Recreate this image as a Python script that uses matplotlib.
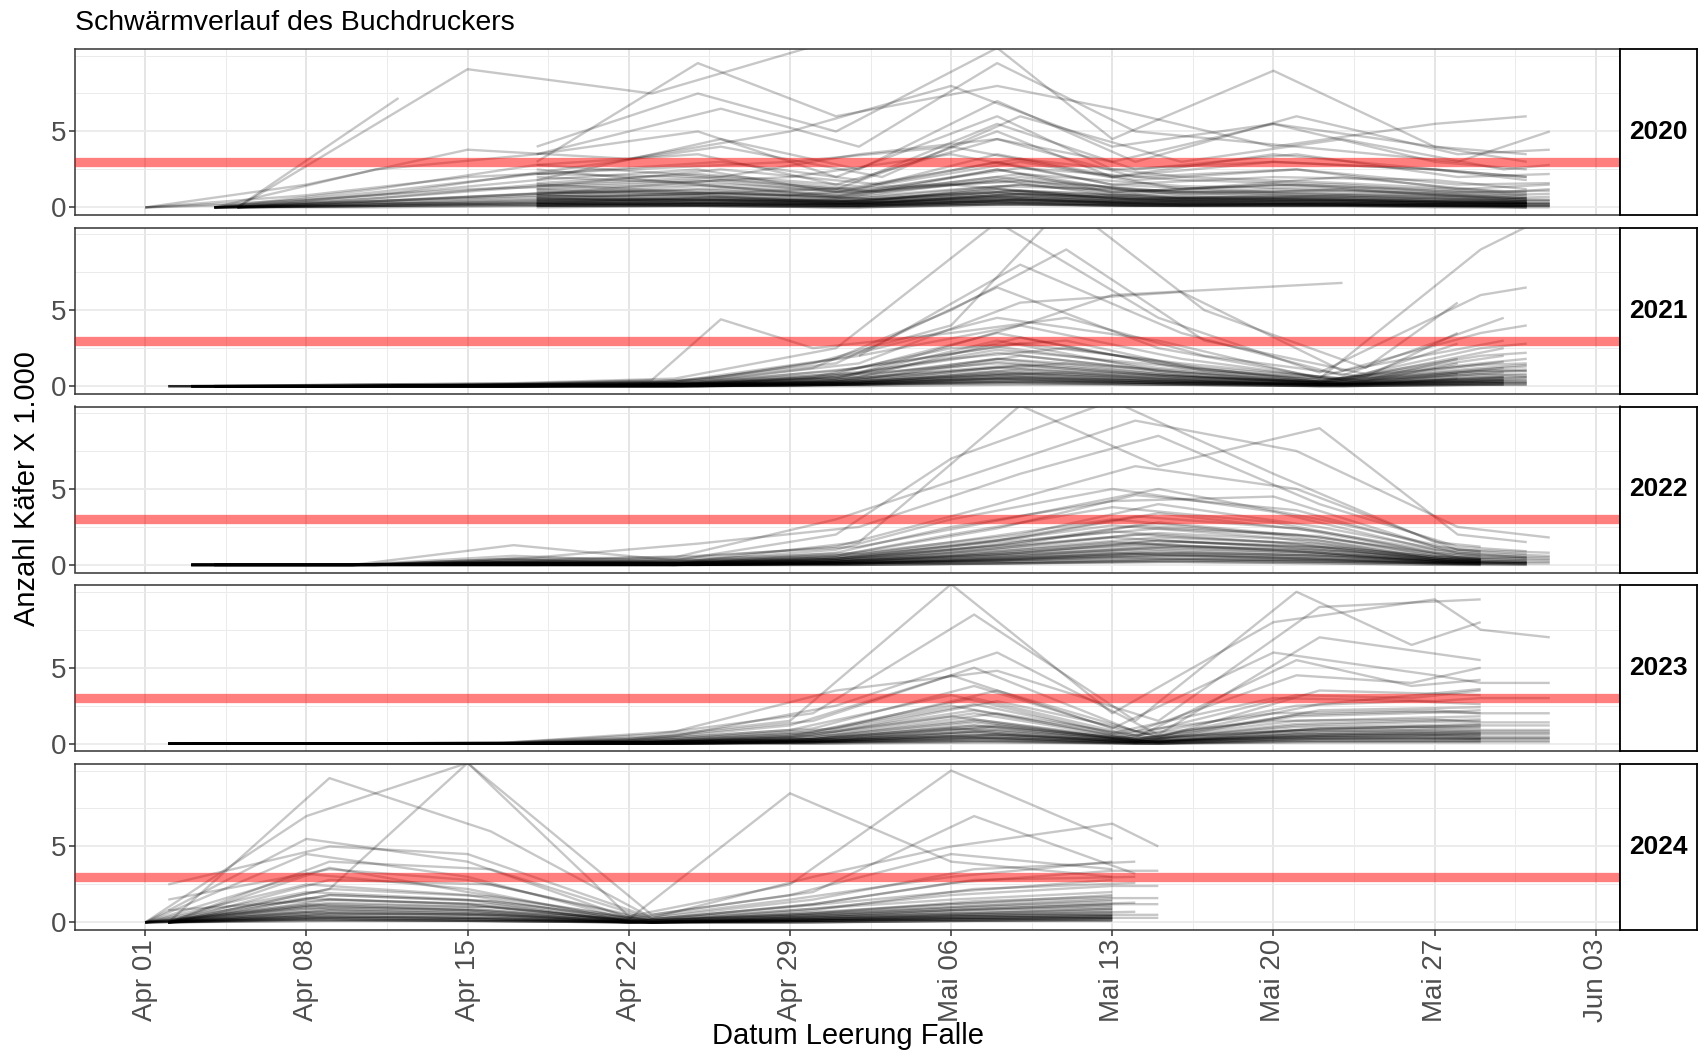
import matplotlib
matplotlib.use("Agg")
import matplotlib.pyplot as plt
import matplotlib.dates as mdates
import numpy as np
import pandas as pd

plt.rcParams['font.family'] = ['Liberation Sans', 'DejaVu Sans']

# ---------------- data (days after 1 April, beetles x 1000) ----------------
years = [2020, 2021, 2022, 2023, 2024]
threshold = 3.0
tick_labels = ["Apr 01", "Apr 08", "Apr 15", "Apr 22", "Apr 29",
               "Mai 06", "Mai 13", "Mai 20", "Mai 27", "Jun 03"]
title = "Schwärmverlauf des Buchdruckers"
xlabel = "Datum Leerung Falle"
ylabel = "Anzahl Käfer X 1.000"

# 2020
days_2020_a = [0, 7, 14, 21, 28, 35, 42, 49, 56, 60]
vals_2020_a = [
    [0, 0.8, 2.0, 2.5, 3.0, 4.0, 2.0, 3.0, 2.5, 2.0],
    [0, 0.5, 1.2, 1.5, 2.0, 3.5, 1.5, 1.0, 0.8, 0.5],
    [0, 1.5, 3.8, 3.2, 5.0, 8.0, 4.0, 5.5, 4.0, 3.0],
    [0, 0.3, 0.6, 1.0, 0.8, 1.5, 0.6, 0.5, 0.4, 0.3],
]
days_2020_b = [3, 10, 17, 25, 31, 37, 43, 50, 57, 61]
vals_2020_b = [
    [0, 0.4, 0.9, 1.2, 0.8, 2.5, 1.0, 1.5, 1.0, 1.1],
    [0, 0.2, 0.5, 0.7, 0.4, 1.2, 0.5, 0.6, 0.4, 0.4],
    [0, 1.0, 2.2, 3.0, 1.8, 5.5, 2.5, 3.5, 2.0, 2.2],
    [0, 0.1, 0.3, 0.5, 0.2, 0.8, 0.3, 0.3, 0.2, 0.2],
    [0, 0.6, 1.5, 2.0, 1.2, 3.5, 1.8, 2.5, 1.2, 1.5],
    [0, 2.5, 3.5, 6.5, 4.0, 9.5, 5.0, 4.0, 3.0, 5.0],
    [0, 0.3, 0.2, 0.4, 0.3, 0.6, 0.2, 0.2, 0.1, 0.1],
    [0, 0.8, 1.8, 4.5, 2.5, 7.0, 3.0, 6.0, 3.5, 3.8],
    [0, 0.1, 0.1, 0.2, 0.1, 0.4, 0.1, 0.2, 0.1, 0.1],
    [0, 1.2, 2.8, 2.0, 3.5, 4.5, 2.0, 2.5, 1.5, 1.6],
]
days_2020_c = [4, 11, 18, 25, 32, 38, 45, 52, 59, 61]
vals_2020_c = [
    [0, 0.5, 1.0, 1.8, 1.0, 2.0, 0.8, 1.2, 0.6, 0.7],
    [0, 0.2, 0.4, 0.6, 0.3, 0.9, 0.4, 0.5, 0.3, 0.3],
    [0, 1.0, 2.5, 4.0, 2.0, 6.0, 3.0, 4.5, 2.5, 2.8],
    [0, 0.3, 0.6, 1.0, 0.5, 1.5, 0.6, 0.8, 0.5, 0.5],
    [0, 0.1, 0.2, 0.3, 0.2, 0.5, 0.2, 0.3, 0.2, 0.2],
    [0, 0.7, 1.5, 2.5, 1.5, 3.0, 1.2, 2.0, 1.0, 1.2],
]
days_2020_d = [17, 24, 30, 37, 42, 49, 56, 60]
vals_2020_d = [
    [2.5, 1.5, 0.8, 2.0, 1.0, 1.5, 1.2, 0.8],
    [0.5, 0.3, 0.2, 0.6, 0.3, 0.4, 0.3, 0.2],
    [3.5, 5.0, 2.0, 6.0, 2.5, 3.0, 2.5, 2.0],
    [1.0, 0.8, 0.3, 1.2, 0.5, 0.8, 0.6, 0.4],
    [0.2, 0.1, 0.1, 0.3, 0.1, 0.2, 0.1, 0.1],
    [4.0, 7.5, 5.0, 10.5, 4.5, 9.0, 4.0, 3.5],
    [1.8, 2.5, 1.0, 3.0, 1.5, 2.0, 1.8, 1.2],
    [0.8, 0.5, 0.4, 1.0, 0.4, 0.6, 0.4, 0.3],
    [2.8, 3.5, 1.5, 4.5, 3.0, 5.5, 3.0, 2.5],
    [0.3, 0.2, 0.1, 0.4, 0.2, 0.3, 0.2, 0.1],
    [1.5, 1.0, 0.6, 1.8, 0.8, 1.2, 0.9, 0.6],
    [3.0, 9.5, 6.0, 8.0, 6.5, 4.0, 5.5, 6.0],
    [0.6, 0.4, 0.2, 0.7, 0.3, 0.5, 0.3, 0.3],
    [2.2, 2.0, 1.2, 5.0, 2.0, 3.5, 2.5, 1.8],
    [1.2, 1.5, 0.7, 2.5, 1.0, 1.5, 1.0, 0.7],
    [0.1, 0.1, 0.0, 0.2, 0.1, 0.1, 0.1, 0.0],
]
days_2020_e = [4, 14, 22, 29]
vals_2020_e = [[0, 9.1, 7.5, 10.6]]
days_2020_f = [4, 11]
vals_2020_f = [[0, 7.2]]
days_2020_g = [17, 24, 31, 38, 45, 52, 56, 60]
vals_2020_g = [
    [0.4, 0.6, 0.3, 0.9, 0.5, 0.4, 0.3, 0.2],
    [0.9, 1.2, 0.6, 1.5, 0.9, 0.7, 0.5, 0.4],
    [0.2, 0.3, 0.1, 0.5, 0.2, 0.2, 0.1, 0.1],
    [1.4, 1.8, 0.9, 2.2, 1.4, 1.2, 0.8, 0.6],
    [0.6, 0.4, 0.5, 0.8, 0.6, 0.5, 0.3, 0.3],
    [0.1, 0.2, 0.1, 0.3, 0.1, 0.1, 0.1, 0.1],
    [1.1, 0.9, 1.3, 1.7, 1.0, 0.8, 0.7, 0.5],
    [0.3, 0.5, 0.2, 0.6, 0.4, 0.3, 0.2, 0.2],
    [2.0, 1.6, 1.1, 2.6, 1.8, 1.5, 1.1, 0.9],
    [0.7, 0.8, 0.4, 1.1, 0.7, 0.6, 0.4, 0.3],
    [0.0, 0.1, 0.0, 0.2, 0.1, 0.1, 0.0, 0.0],
    [1.6, 2.2, 1.4, 3.2, 2.0, 1.6, 1.3, 1.0],
]
days_2020_h = [3, 10, 17, 24, 31, 38, 45, 52, 59, 61]
vals_2020_h = [
    [0, 0.1, 0.2, 0.3, 0.2, 0.4, 0.2, 0.2, 0.1, 0.1],
    [0, 0.2, 0.4, 0.5, 0.4, 0.7, 0.4, 0.4, 0.3, 0.3],
    [0, 0.0, 0.1, 0.1, 0.1, 0.2, 0.1, 0.1, 0.0, 0.0],
    [0, 0.3, 0.7, 0.9, 0.6, 1.1, 0.6, 0.7, 0.5, 0.5],
    [0, 0.1, 0.3, 0.2, 0.3, 0.5, 0.3, 0.2, 0.2, 0.2],
    [0, 0.4, 0.9, 1.4, 1.0, 1.8, 1.0, 1.1, 0.8, 0.9],
]
days_2020_i = [17, 24, 31, 37, 44, 51, 58, 60]
vals_2020_i = [
    [0.3, 0.2, 0.2, 0.4, 0.3, 0.2, 0.2, 0.1],
    [0.6, 0.5, 0.3, 0.7, 0.5, 0.4, 0.3, 0.3],
    [0.1, 0.1, 0.0, 0.2, 0.1, 0.1, 0.1, 0.0],
    [0.8, 0.7, 0.5, 1.0, 0.7, 0.6, 0.5, 0.4],
    [0.4, 0.3, 0.3, 0.5, 0.4, 0.3, 0.2, 0.2],
    [1.2, 1.0, 0.7, 1.4, 1.1, 0.9, 0.7, 0.6],
    [0.2, 0.2, 0.1, 0.3, 0.2, 0.2, 0.1, 0.1],
    [0.5, 0.6, 0.4, 0.9, 0.6, 0.5, 0.4, 0.3],
]

# 2021
days_2021_a = [2, 9, 16, 23, 30, 37, 44, 51, 58, 60]
vals_2021_a = [
    [0, 0.0, 0.1, 0.2, 0.8, 3.5, 1.5, 0.3, 2.0, 2.2],
    [0, 0.0, 0.0, 0.1, 0.4, 1.8, 0.8, 0.2, 1.0, 1.0],
    [0, 0.1, 0.1, 0.3, 1.5, 6.5, 2.5, 0.6, 3.5, 4.0],
    [0, 0.0, 0.0, 0.0, 0.2, 0.9, 0.4, 0.1, 0.5, 0.6],
    [0, 0.0, 0.1, 0.2, 1.0, 2.6, 1.2, 0.4, 1.5, 1.8],
    [0, 0.1, 0.2, 0.5, 2.5, 10.8, 4.5, 0.9, 6.0, 6.5],
    [0, 0.0, 0.0, 0.1, 0.3, 1.2, 0.5, 0.2, 0.8, 0.7],
    [0, 0.0, 0.1, 0.1, 0.6, 2.2, 1.0, 0.3, 1.2, 1.4],
    [0, 0.0, 0.0, 0.0, 0.1, 0.5, 0.2, 0.1, 0.3, 0.3],
    [0, 0.0, 0.1, 0.3, 1.8, 4.5, 3.0, 0.5, 9.0, 10.5],
    [0, 0.0, 0.0, 0.1, 0.5, 3.0, 1.0, 0.2, 2.5, 2.8],
    [0, 0.0, 0.0, 0.1, 0.7, 1.5, 0.7, 0.3, 1.1, 1.3],
]
days_2021_b = [3, 10, 17, 24, 31, 38, 45, 52, 59]
vals_2021_b = [
    [0, 0.0, 0.1, 0.2, 0.9, 4.0, 1.8, 0.4, 2.5],
    [0, 0.0, 0.0, 0.1, 0.3, 1.4, 0.6, 0.2, 0.9],
    [0, 0.1, 0.2, 0.4, 2.0, 8.0, 3.5, 0.7, 4.5],
    [0, 0.0, 0.0, 0.0, 0.1, 0.6, 0.3, 0.1, 0.4],
    [0, 0.0, 0.1, 0.2, 1.2, 2.8, 1.5, 0.5, 2.0],
    [0, 0.0, 0.0, 0.1, 0.4, 2.0, 0.9, 0.2, 1.2],
    [0, 0.1, 0.1, 0.3, 1.5, 5.5, 6.2, 1.0, 3.0],
    [0, 0.0, 0.0, 0.1, 0.2, 0.8, 0.4, 0.1, 0.6],
    [0, 0.0, 0.1, 0.2, 0.6, 3.2, 1.2, 0.4, 1.6],
    [0, 0.0, 0.0, 0.0, 0.1, 0.3, 0.2, 0.0, 0.2],
]
days_2021_c = [1, 8, 15, 22, 25, 29, 35, 40, 46, 53, 57]
vals_2021_c = [
    [0, 0.0, 0.1, 0.4, 4.4, 2.5, 3.5, 4.5, 2.0, 0.6, 3.5],
    [0, 0.0, 0.0, 0.1, 0.2, 0.6, 2.5, 3.0, 1.0, 0.3, 1.5],
    [0, 0.0, 0.1, 0.2, 0.5, 1.2, 5.0, 9.0, 3.0, 0.8, 2.8],
    [0, 0.0, 0.0, 0.1, 0.1, 0.3, 1.0, 1.5, 0.6, 0.2, 0.8],
    [0, 0.0, 0.0, 0.0, 0.1, 0.2, 0.6, 0.9, 0.4, 0.1, 0.5],
    [0, 0.0, 0.1, 0.3, 0.6, 1.5, 4.0, 12.0, 5.0, 1.2, 5.5],
    [0, 0.0, 0.0, 0.1, 0.2, 0.5, 1.8, 2.5, 1.2, 0.4, 1.8],
]
days_2021_d = [31, 38, 42, 52]
vals_2021_d = [[2.0, 4.0, 6.0, 6.8]]
days_2021_e = [2, 9, 16, 23, 30, 37, 44, 51, 58, 60]
vals_2021_e = [
    [0, 0, 0, 0.0, 0.1, 0.4, 0.2, 0.0, 0.2, 0.2],
    [0, 0, 0, 0.1, 0.2, 0.8, 0.4, 0.1, 0.4, 0.4],
    [0, 0, 0, 0.0, 0.1, 0.3, 0.1, 0.0, 0.1, 0.1],
    [0, 0, 0, 0.1, 0.4, 1.3, 0.7, 0.2, 0.7, 0.8],
    [0, 0, 0, 0.0, 0.2, 0.6, 0.3, 0.1, 0.3, 0.3],
    [0, 0, 0, 0.1, 0.5, 1.8, 1.1, 0.3, 1.0, 1.1],
    [0, 0, 0, 0.0, 0.1, 0.2, 0.1, 0.0, 0.1, 0.1],
    [0, 0, 0, 0.1, 0.3, 1.0, 0.5, 0.1, 0.6, 0.6],
    [0, 0, 0, 0.2, 0.6, 2.4, 1.4, 0.4, 1.4, 1.5],
    [0, 0, 0, 0.0, 0.2, 0.5, 0.2, 0.1, 0.2, 0.2],
    [0, 0, 0, 0.1, 0.3, 1.6, 0.8, 0.2, 0.9, 1.0],
    [0, 0, 0, 0.0, 0.1, 0.7, 0.3, 0.1, 0.4, 0.5],
]
days_2021_f = [3, 10, 17, 24, 31, 38, 45, 52, 59]
vals_2021_f = [
    [0, 0, 0, 0.0, 0.1, 0.3, 0.2, 0.1, 0.2],
    [0, 0, 0, 0.1, 0.2, 0.6, 0.3, 0.1, 0.3],
    [0, 0, 0, 0.0, 0.1, 0.2, 0.1, 0.0, 0.1],
    [0, 0, 0, 0.1, 0.3, 0.9, 0.5, 0.2, 0.5],
    [0, 0, 0, 0.0, 0.1, 0.4, 0.2, 0.1, 0.3],
    [0, 0, 0, 0.1, 0.2, 1.1, 0.6, 0.2, 0.6],
    [0, 0, 0, 0.0, 0.0, 0.1, 0.1, 0.0, 0.1],
    [0, 0, 0, 0.0, 0.2, 0.5, 0.3, 0.1, 0.4],
]

# 2022
days_2022_a = [2, 9, 16, 23, 30, 35, 42, 49, 56, 58]
vals_2022_a = [
    [0, 0.0, 0.3, 0.1, 0.5, 1.5, 3.0, 2.0, 0.6, 0.4],
    [0, 0.0, 0.1, 0.0, 0.2, 0.6, 1.5, 1.0, 0.3, 0.2],
    [0, 0.0, 0.6, 0.2, 1.0, 3.0, 5.0, 3.5, 1.0, 0.8],
    [0, 0.0, 0.0, 0.0, 0.1, 0.3, 0.8, 0.5, 0.2, 0.1],
    [0, 0.0, 0.2, 0.1, 0.6, 2.0, 3.8, 2.8, 0.8, 0.6],
    [0, 0.0, 1.3, 0.3, 2.0, 7.0, 10.8, 6.0, 1.5, 1.2],
    [0, 0.0, 0.1, 0.0, 0.3, 1.0, 2.2, 1.5, 0.4, 0.3],
    [0, 0.0, 0.4, 0.1, 0.8, 2.5, 4.2, 4.5, 1.2, 0.9],
    [0, 0.0, 0.0, 0.0, 0.1, 0.2, 0.5, 0.3, 0.1, 0.1],
    [0, 0.0, 0.2, 0.1, 0.4, 1.2, 2.6, 1.8, 0.5, 0.4],
    [0, 0.0, 0.1, 0.0, 0.2, 0.8, 1.8, 1.2, 0.4, 0.3],
]
days_2022_b = [2, 10, 17, 24, 31, 38, 44, 51, 57, 60]
vals_2022_b = [
    [0, 0.0, 0.2, 0.4, 0.8, 2.0, 4.0, 2.5, 0.8, 0.5],
    [0, 0.0, 0.1, 0.2, 0.3, 0.8, 1.6, 1.1, 0.3, 0.2],
    [0, 0.0, 0.5, 1.4, 2.5, 6.0, 8.5, 4.0, 1.2, 0.9],
    [0, 0.0, 0.0, 0.1, 0.1, 0.4, 0.9, 0.6, 0.2, 0.1],
    [0, 0.0, 0.3, 0.6, 1.2, 3.2, 5.0, 3.0, 1.0, 0.7],
    [0, 0.0, 0.1, 0.2, 0.5, 1.4, 2.8, 1.8, 0.5, 0.4],
    [0, 0.0, 0.2, 0.3, 1.5, 10.5, 6.5, 9.0, 2.0, 1.5],
    [0, 0.0, 0.0, 0.1, 0.2, 0.6, 1.2, 0.8, 0.2, 0.2],
    [0, 0.0, 0.1, 0.3, 0.7, 1.8, 3.4, 2.2, 0.7, 0.5],
]
days_2022_c = [3, 9, 16, 23, 30, 37, 43, 50, 57, 61]
vals_2022_c = [
    [0, 0.0, 0.1, 0.1, 0.4, 1.6, 3.2, 2.4, 0.5, 0.4],
    [0, 0.0, 0.0, 0.0, 0.2, 0.7, 1.4, 0.9, 0.2, 0.2],
    [0, 0.0, 0.3, 0.4, 1.2, 4.0, 6.5, 5.0, 1.0, 0.8],
    [0, 0.0, 0.0, 0.0, 0.1, 0.3, 0.7, 0.4, 0.1, 0.1],
    [0, 0.0, 0.2, 0.2, 0.6, 2.4, 4.6, 3.6, 0.8, 0.6],
    [0, 0.0, 0.1, 0.1, 0.3, 1.1, 2.0, 1.4, 0.4, 0.3],
    [0, 0.0, 0.4, 0.5, 3.0, 6.5, 9.5, 7.5, 2.5, 1.8],
    [0, 0.0, 0.1, 0.1, 0.4, 1.3, 2.6, 2.0, 0.6, 0.5],
]
days_2022_d = [2, 9, 16, 23, 30, 37, 44, 51, 56, 58]
vals_2022_d = [
    [0, 0, 0.0, 0.0, 0.1, 0.3, 0.6, 0.4, 0.1, 0.1],
    [0, 0, 0.1, 0.1, 0.2, 0.6, 1.1, 0.8, 0.2, 0.2],
    [0, 0, 0.0, 0.0, 0.0, 0.1, 0.3, 0.2, 0.1, 0.0],
    [0, 0, 0.1, 0.1, 0.3, 0.9, 1.6, 1.2, 0.3, 0.3],
    [0, 0, 0.0, 0.0, 0.1, 0.4, 0.8, 0.6, 0.2, 0.1],
    [0, 0, 0.1, 0.1, 0.4, 1.2, 2.1, 1.6, 0.4, 0.3],
    [0, 0, 0.0, 0.0, 0.1, 0.2, 0.4, 0.3, 0.1, 0.1],
    [0, 0, 0.1, 0.1, 0.2, 0.7, 1.3, 1.0, 0.3, 0.2],
    [0, 0, 0.2, 0.2, 0.5, 1.5, 2.4, 1.9, 0.6, 0.4],
    [0, 0, 0.0, 0.0, 0.1, 0.5, 1.0, 0.7, 0.2, 0.2],
    [0, 0, 0.1, 0.1, 0.3, 1.0, 1.8, 1.4, 0.4, 0.3],
    [0, 0, 0.0, 0.0, 0.0, 0.1, 0.2, 0.1, 0.0, 0.0],
]
days_2022_e = [3, 10, 17, 24, 31, 38, 45, 52, 57, 60]
vals_2022_e = [
    [0, 0, 0.0, 0.0, 0.1, 0.2, 0.4, 0.3, 0.1, 0.1],
    [0, 0, 0.1, 0.0, 0.2, 0.5, 0.8, 0.6, 0.2, 0.1],
    [0, 0, 0.0, 0.0, 0.0, 0.1, 0.2, 0.1, 0.0, 0.0],
    [0, 0, 0.1, 0.1, 0.2, 0.7, 1.2, 0.9, 0.3, 0.2],
    [0, 0, 0.0, 0.0, 0.1, 0.3, 0.6, 0.4, 0.1, 0.1],
    [0, 0, 0.1, 0.1, 0.3, 0.9, 1.5, 1.1, 0.4, 0.3],
    [0, 0, 0.0, 0.0, 0.1, 0.4, 0.7, 0.5, 0.2, 0.1],
    [0, 0, 0.0, 0.0, 0.0, 0.1, 0.3, 0.2, 0.1, 0.0],
]

# 2023
days_2023_a = [1, 8, 15, 22, 29, 36, 43, 50, 55, 58]
vals_2023_a = [
    [0, 0.0, 0.0, 0.2, 0.8, 3.0, 0.5, 2.5, 2.8, 2.6],
    [0, 0.0, 0.0, 0.1, 0.4, 1.5, 0.2, 1.2, 1.4, 1.5],
    [0, 0.0, 0.0, 0.4, 1.5, 5.0, 0.8, 4.5, 4.0, 5.0],
    [0, 0.0, 0.0, 0.0, 0.2, 0.8, 0.1, 0.6, 0.7, 0.8],
    [0, 0.0, 0.0, 0.3, 1.0, 3.8, 0.6, 3.2, 3.0, 3.5],
    [0, 0.0, 0.0, 0.1, 0.6, 2.2, 0.3, 1.8, 2.0, 2.2],
    [0, 0.0, 0.0, 0.6, 2.0, 8.5, 1.5, 10.0, 6.5, 8.0],
    [0, 0.0, 0.0, 0.0, 0.1, 0.4, 0.1, 0.3, 0.4, 0.3],
    [0, 0.0, 0.0, 0.2, 0.7, 2.6, 0.4, 5.5, 3.8, 4.2],
    [0, 0.0, 0.0, 0.1, 0.3, 1.2, 0.2, 0.9, 1.1, 1.0],
]
days_2023_b = [1, 8, 15, 21, 28, 35, 42, 49, 56, 58, 61]
vals_2023_b = [
    [0, 0.0, 0.0, 0.1, 0.5, 2.5, 0.6, 2.0, 2.2, 2.0, 2.0],
    [0, 0.0, 0.0, 0.0, 0.2, 1.0, 0.3, 0.8, 0.9, 0.8, 0.8],
    [0, 0.0, 0.0, 0.2, 1.2, 4.5, 1.0, 6.0, 4.5, 4.0, 4.0],
    [0, 0.0, 0.0, 0.1, 0.4, 1.8, 0.4, 1.5, 1.6, 1.4, 1.4],
    [0, 0.0, 0.0, 0.3, 1.5, 10.5, 2.0, 8.0, 9.5, 7.5, 7.0],
    [0, 0.0, 0.0, 0.0, 0.1, 0.5, 0.1, 0.4, 0.5, 0.4, 0.4],
    [0, 0.0, 0.0, 0.2, 0.9, 3.2, 0.7, 3.0, 2.8, 3.0, 3.0],
]
days_2023_c = [2, 9, 16, 23, 30, 37, 44, 51, 58]
vals_2023_c = [
    [0, 0.0, 0.0, 0.3, 1.0, 3.5, 0.4, 3.5, 3.2],
    [0, 0.0, 0.0, 0.1, 0.3, 1.2, 0.1, 1.0, 1.2],
    [0, 0.0, 0.1, 0.5, 2.5, 6.0, 0.6, 7.0, 5.5],
    [0, 0.0, 0.0, 0.1, 0.6, 2.0, 0.3, 2.2, 2.4],
    [0, 0.0, 0.0, 0.0, 0.2, 0.6, 0.1, 0.5, 0.6],
    [0, 0.0, 0.0, 0.2, 0.8, 2.8, 0.5, 2.6, 3.6],
    [0, 0.0, 0.1, 0.8, 3.5, 4.8, 1.5, 9.0, 9.5],
]
days_2023_d = [1, 8, 15, 22, 29, 36, 43, 50, 55, 58]
vals_2023_d = [
    [0, 0, 0, 0.0, 0.1, 0.4, 0.1, 0.4, 0.4, 0.4],
    [0, 0, 0, 0.1, 0.2, 0.8, 0.1, 0.7, 0.8, 0.7],
    [0, 0, 0, 0.0, 0.0, 0.2, 0.0, 0.2, 0.2, 0.2],
    [0, 0, 0, 0.1, 0.3, 1.2, 0.2, 1.1, 1.2, 1.3],
    [0, 0, 0, 0.0, 0.1, 0.6, 0.1, 0.5, 0.6, 0.5],
    [0, 0, 0, 0.1, 0.4, 1.6, 0.3, 1.5, 1.7, 1.8],
    [0, 0, 0, 0.0, 0.1, 0.3, 0.0, 0.3, 0.3, 0.3],
    [0, 0, 0, 0.1, 0.3, 1.0, 0.2, 0.9, 1.0, 1.1],
    [0, 0, 0, 0.1, 0.5, 2.0, 0.3, 1.9, 2.1, 2.0],
    [0, 0, 0, 0.0, 0.2, 0.7, 0.1, 0.6, 0.7, 0.6],
    [0, 0, 0, 0.1, 0.3, 1.4, 0.2, 1.3, 1.5, 1.6],
    [0, 0, 0, 0.0, 0.1, 0.1, 0.0, 0.1, 0.1, 0.1],
]
days_2023_e = [2, 9, 16, 23, 30, 37, 44, 51, 58, 61]
vals_2023_e = [
    [0, 0, 0, 0.0, 0.1, 0.3, 0.0, 0.3, 0.3, 0.3],
    [0, 0, 0, 0.1, 0.2, 0.6, 0.1, 0.5, 0.6, 0.6],
    [0, 0, 0, 0.0, 0.0, 0.1, 0.0, 0.1, 0.1, 0.1],
    [0, 0, 0, 0.1, 0.2, 0.9, 0.1, 0.8, 0.9, 0.9],
    [0, 0, 0, 0.0, 0.1, 0.4, 0.0, 0.4, 0.4, 0.4],
    [0, 0, 0, 0.1, 0.3, 1.1, 0.2, 1.0, 1.2, 1.2],
    [0, 0, 0, 0.0, 0.1, 0.2, 0.0, 0.2, 0.2, 0.2],
    [0, 0, 0, 0.0, 0.2, 0.5, 0.1, 0.6, 0.7, 0.7],
]

# 2024
days_2024_a = [0, 7, 14, 21, 28, 35, 42]
vals_2024_a = [
    [0, 2.5, 1.8, 0.1, 0.8, 1.5, 2.0],
    [0, 1.0, 0.8, 0.0, 0.3, 0.6, 0.9],
    [0, 4.5, 3.0, 0.2, 1.5, 3.0, 4.0],
    [0, 0.4, 0.3, 0.0, 0.1, 0.3, 0.4],
    [0, 3.2, 2.2, 0.1, 1.0, 2.0, 2.8],
    [0, 7.0, 10.5, 0.4, 2.5, 10.0, 5.5],
    [0, 1.6, 1.2, 0.1, 0.5, 1.0, 1.5],
    [0, 0.2, 0.1, 0.0, 0.1, 0.2, 0.2],
    [0, 2.0, 1.5, 0.0, 0.6, 1.2, 1.8],
    [0, 5.5, 4.0, 0.3, 1.8, 4.5, 3.5],
    [0, 1.2, 0.8, 0.2, 8.5, 4.0, 3.0],
]
days_2024_b = [1, 8, 15, 22, 29, 35, 42, 44]
vals_2024_b = [
    [0, 2.8, 2.5, 0.1, 0.9, 1.8, 2.4, 2.4],
    [0, 1.2, 1.0, 0.0, 0.4, 0.8, 1.2, 1.2],
    [0, 4.0, 3.5, 0.2, 1.2, 2.6, 3.4, 3.4],
    [0, 0.6, 0.5, 0.0, 0.2, 0.4, 0.5, 0.5],
    [0, 9.5, 6.0, 0.3, 3.0, 5.0, 6.5, 5.0],
    [0, 1.8, 1.4, 0.1, 0.6, 1.2, 1.6, 1.6],
    [0, 0.3, 0.2, 0.0, 0.1, 0.2, 0.3, 0.3],
]
days_2024_c = [1, 8, 14, 22, 29, 36, 43]
vals_2024_c = [
    [1.5, 3.5, 2.8, 0.2, 1.2, 2.8, 3.0],
    [2.5, 5.0, 4.5, 0.3, 1.5, 3.5, 4.0],
    [0.8, 1.5, 1.2, 0.0, 0.5, 1.0, 1.3],
    [0, 2.2, 10.5, 0.5, 2.0, 7.0, 3.2],
    [0, 0.8, 0.6, 0.0, 0.2, 0.5, 0.7],
    [0, 3.6, 2.0, 0.1, 0.8, 2.2, 2.6],
]
days_2024_d = [1, 8, 15, 22, 29, 36, 42]
vals_2024_d = [
    [0, 0.4, 0.3, 0.0, 0.1, 0.3, 0.4],
    [0, 0.8, 0.6, 0.0, 0.2, 0.5, 0.7],
    [0, 0.2, 0.1, 0.0, 0.0, 0.1, 0.2],
    [0, 1.3, 1.0, 0.0, 0.3, 0.8, 1.1],
    [0, 0.6, 0.5, 0.0, 0.2, 0.4, 0.5],
    [0, 1.8, 1.4, 0.1, 0.5, 1.1, 1.4],
    [0, 0.1, 0.1, 0.0, 0.0, 0.1, 0.1],
    [0, 1.0, 0.8, 0.0, 0.3, 0.6, 0.9],
    [0, 2.2, 1.7, 0.1, 0.6, 1.4, 1.7],
    [0, 0.5, 0.3, 0.0, 0.1, 0.3, 0.3],
    [0, 1.5, 1.2, 0.0, 0.4, 0.9, 1.2],
    [0, 0.3, 0.2, 0.0, 0.1, 0.2, 0.3],
]
days_2024_e = [0, 7, 14, 21, 28, 35, 42]
vals_2024_e = [
    [0, 0.3, 0.2, 0.0, 0.1, 0.2, 0.3],
    [0, 0.6, 0.5, 0.0, 0.2, 0.4, 0.5],
    [0, 0.1, 0.1, 0.0, 0.0, 0.1, 0.1],
    [0, 0.9, 0.7, 0.0, 0.3, 0.6, 0.8],
    [0, 0.4, 0.3, 0.0, 0.1, 0.3, 0.4],
    [0, 1.1, 0.9, 0.1, 0.4, 0.8, 1.0],
    [0, 0.2, 0.1, 0.0, 0.0, 0.1, 0.2],
    [0, 0.7, 0.5, 0.0, 0.2, 0.5, 0.6],
]

groups = {
    2020: [(days_2020_a, vals_2020_a), (days_2020_b, vals_2020_b),
           (days_2020_c, vals_2020_c), (days_2020_d, vals_2020_d),
           (days_2020_e, vals_2020_e), (days_2020_f, vals_2020_f),
           (days_2020_g, vals_2020_g), (days_2020_h, vals_2020_h),
           (days_2020_i, vals_2020_i)],
    2021: [(days_2021_a, vals_2021_a), (days_2021_b, vals_2021_b),
           (days_2021_c, vals_2021_c), (days_2021_d, vals_2021_d),
           (days_2021_e, vals_2021_e), (days_2021_f, vals_2021_f)],
    2022: [(days_2022_a, vals_2022_a), (days_2022_b, vals_2022_b),
           (days_2022_c, vals_2022_c), (days_2022_d, vals_2022_d),
           (days_2022_e, vals_2022_e)],
    2023: [(days_2023_a, vals_2023_a), (days_2023_b, vals_2023_b),
           (days_2023_c, vals_2023_c), (days_2023_d, vals_2023_d),
           (days_2023_e, vals_2023_e)],
    2024: [(days_2024_a, vals_2024_a), (days_2024_b, vals_2024_b),
           (days_2024_c, vals_2024_c), (days_2024_d, vals_2024_d),
           (days_2024_e, vals_2024_e)],
}

# ---------------- drawing ----------------
base = pd.Timestamp("2000-04-01")
def to_x(days):
    return mdates.date2num(base + pd.to_timedelta(np.asarray(days), unit="D"))

W, H = 1704, 1053
fig = plt.figure(figsize=(W / 100, H / 100), dpi=100)

left_px, right_px = 75, 1620
strip_w = 77
top_px, ph, gap = 49, 166, 12.75

all_days = [d for y in years for ds, _ in groups[y] for d in ds]
dmin, dmax = min(all_days), max(all_days)
pad = 0.05 * (dmax - dmin)
xlim = (to_x([dmin - pad])[0], to_x([dmax + pad])[0])
ylim = (-0.5, 10.43)

tick_x = to_x(np.arange(len(tick_labels)) * 7)
minor_x = tick_x + 3.5

grid_col = "#EBEBEB"
for i, yr in enumerate(years):
    t = top_px + i * (ph + gap)
    ax = fig.add_axes([left_px / W, 1 - (t + ph) / H,
                       (right_px - left_px) / W, ph / H])
    ax.set_xlim(*xlim)
    ax.set_ylim(*ylim)
    # grid
    for gx in minor_x:
        ax.axvline(gx, color=grid_col, lw=0.7, zorder=0)
    for gx in tick_x:
        ax.axvline(gx, color="#E3E3E3", lw=1.3, zorder=0)
    for gy in [2.5, 7.5, 10]:
        ax.axhline(gy, color=grid_col, lw=0.7, zorder=0)
    for gy in [0, 5]:
        ax.axhline(gy, color=grid_col, lw=1.3, zorder=0)
    # trap lines
    for ds, vs in groups[yr]:
        xs = to_x(ds)
        for v in vs:
            ax.plot(xs, v, color="black", alpha=0.22, lw=1.7,
                    solid_capstyle="butt", solid_joinstyle="round", zorder=2)
    ax.axhline(threshold, color="red", alpha=0.5, lw=6.7, zorder=3)
    # axes styling
    for s in ax.spines.values():
        s.set_color("#333333")
        s.set_linewidth(1.1)
    ax.set_yticks([0, 5])
    ax.set_yticklabels(["0", "5"])
    ax.tick_params(axis="y", colors="#333333", labelcolor="#4D4D4D",
                   labelsize=20, length=4.5, width=1.1, pad=1.5)
    ax.set_xticks(tick_x)
    if i == len(years) - 1:
        ax.set_xticklabels(tick_labels, rotation=90)
        ax.tick_params(axis="x", colors="#333333", labelcolor="#4D4D4D",
                       labelsize=20, length=4.5, width=1.1, pad=2)
    else:
        ax.tick_params(axis="x", length=0, labelbottom=False)
    # strip
    sax = fig.add_axes([right_px / W, 1 - (t + ph) / H, strip_w / W, ph / H])
    sax.set_xticks([])
    sax.set_yticks([])
    for s in sax.spines.values():
        s.set_color("black")
        s.set_linewidth(1.3)
    sax.text(0.5, 0.5, str(yr), ha="center", va="center", fontsize=19,
             fontweight="bold", color="black", transform=sax.transAxes)

fig.text(left_px / W, 1 - 30 / H, title, ha="left", va="baseline",
         fontsize=20.5, color="black")
fig.text((left_px + right_px) / 2 / W, 1 - 1036 / H, xlabel, ha="center",
         va="center", fontsize=21, color="black")
fig.text(27 / W, 1 - 489 / H, ylabel, ha="center", va="center",
         rotation=90, fontsize=21, color="black")

fig.savefig("out.png", dpi=100)
